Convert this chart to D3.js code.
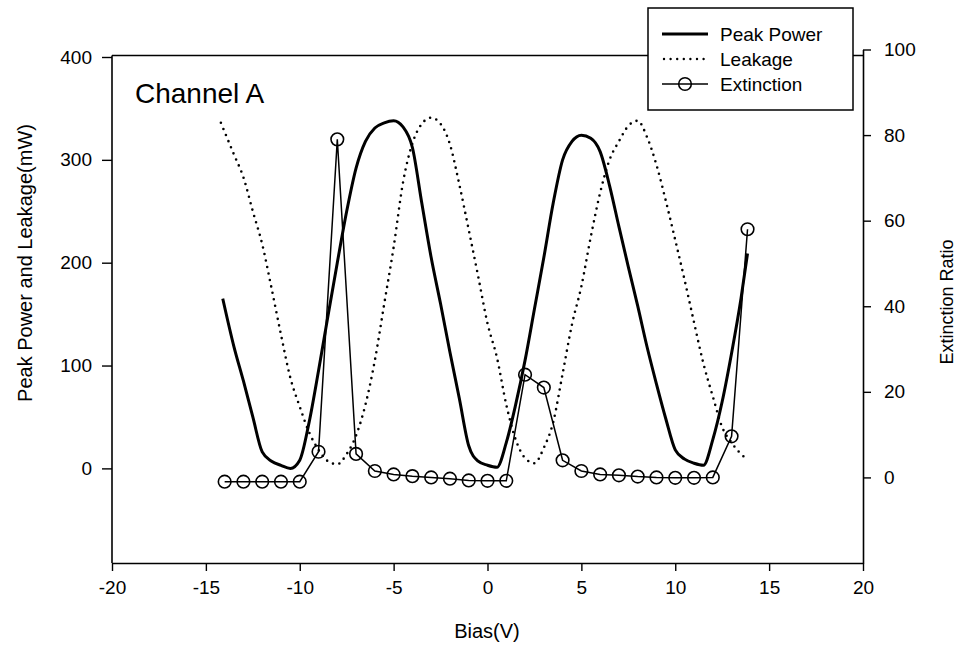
<!DOCTYPE html>
<html><head><meta charset="utf-8">
<script src="https://cdn.jsdelivr.net/npm/d3@7"></script>
<style>
body{margin:0;background:#fff;}
svg{display:block;font-family:"Liberation Sans",Arial,sans-serif;}
</style></head>
<body><svg id="c" width="959" height="648"></svg>
<script>
// ---- data ----
const peakX = [-14.1,-13.5,-13,-12.5,-12,-11.5,-11,-10.5,-10,-9.5,-9,-8.5,-8,-7.5,-7,-6.5,-6,-5.5,-5,-4.5,-4,-3.5,-3,-2.5,-2,-1.5,-1,-0.5,0,0.5,1,1.5,2,2.5,3,3.5,4,4.5,5,5.5,6,6.5,7,7.5,8,8.5,9,9.5,10,10.5,11,11.5,12,12.5,13,13.5,13.85];
const peakY = [165,118,85,50,16,7,3,0,8,45,95,148,200,250,292,318,331,336,338,332,312,258,205,160,113,68,22,7,3,1,25,62,105,155,205,258,300,318,324,321,308,275,235,196,158,118,82,48,18,9,5,3,28,65,112,165,209];
const leakX = [-14.2,-13.5,-13,-12.5,-12,-11.5,-11,-10.5,-10,-9.5,-9,-8.5,-8,-7.5,-7,-6.5,-6,-5.5,-5,-4.5,-4,-3.5,-3,-2.5,-2,-1.5,-1,-0.5,0,0.5,1,1.5,2,2.5,3,3.5,4,4.5,5,5.5,6,6.5,7,7.5,8,8.5,9,9.5,10,10.5,11,11.5,12,12.5,13,13.5,13.9];
const leakY = [336,305,283,250,218,175,130,88,60,35,18,7,4,14,32,62,105,160,215,278,316,335,341,335,315,276,232,187,141,108,62,28,10,5,20,45,92,140,177,225,268,300,318,333,338,322,295,260,222,183,142,102,70,40,25,14,8];
const extX = [-14,-13,-12,-11,-10,-9,-8,-7,-6,-5,-4,-3,-2,-1,0,1,2,3,4,5,6,7,8,9,10,11,12,13,13.85];
const extY = [-1,-1,-1,-1,-1,6,79,5.5,1.5,0.7,0.3,0,-0.3,-0.7,-0.8,-0.8,24,21,4,1.5,0.7,0.5,0.2,0,-0.1,-0.1,0,9.6,58];
const xTicks = [-20,-15,-10,-5,0,5,10,15,20];
const yLeftTicks = [0,100,200,300,400];
const yRightTicks = [0,20,40,60,80,100];
const seriesNames = ["Peak Power","Leakage","Extinction"];

// ---- layout ----
const svg = d3.select("#c");
const x = d3.scaleLinear().domain([-20,20]).range([112,863]);
const yL = d3.scaleLinear().domain([-92,400]).range([563,57]);
const yR = d3.scaleLinear().domain([-20,100]).range([563,49.5]);
const F = "Liberation Sans, Arial, sans-serif";
const fmt = d => String(d);

// frame
svg.append("line").attr("x1",112).attr("x2",863).attr("y1",55.5).attr("y2",55.5).attr("stroke","#000").attr("stroke-width",1.5);

// axes
const gx = svg.append("g").attr("transform","translate(0,563)")
  .call(d3.axisBottom(x).tickValues(xTicks).tickFormat(fmt).tickSize(8).tickPadding(10).tickSizeOuter(0));
const gl = svg.append("g").attr("transform","translate(112,0)")
  .call(d3.axisLeft(yL).tickValues(yLeftTicks).tickFormat(fmt).tickSize(10).tickPadding(10).tickSizeOuter(0));
const gr = svg.append("g").attr("transform","translate(863,0)")
  .call(d3.axisRight(yR).tickValues(yRightTicks).tickFormat(fmt).tickSize(8).tickPadding(13).tickSizeOuter(0));
[gx,gl,gr].forEach(g=>{
  g.selectAll("path.domain").attr("stroke","#000").attr("stroke-width",1.6);
  g.selectAll(".tick line").attr("stroke","#000").attr("stroke-width",1.4);
  g.selectAll("text").attr("font-family",F).attr("font-size",19).attr("fill","#000");
});
gl.select("path.domain").attr("d","M0,563V55.5");

// titles
svg.append("text").attr("x",487).attr("y",638).attr("text-anchor","middle")
  .attr("font-family",F).attr("font-size",20).text("Bias(V)");
svg.append("text").attr("transform","translate(32,263) rotate(-90)").attr("text-anchor","middle")
  .attr("font-family",F).attr("font-size",20).text("Peak Power and Leakage(mW)");
svg.append("text").attr("transform","translate(953,302) rotate(-90)").attr("text-anchor","middle")
  .attr("font-family",F).attr("font-size",18).text("Extinction Ratio");
svg.append("text").attr("x",135).attr("y",103)
  .attr("font-family",F).attr("font-size",28).text("Channel A");

// series
const peak = peakX.map((v,i)=>[v,peakY[i]]);
const leak = leakX.map((v,i)=>[v,leakY[i]]);
const ext = extX.map((v,i)=>[v,extY[i]]);
const lineL = d3.line().x(d=>x(d[0])).y(d=>yL(d[1])).curve(d3.curveMonotoneX);
svg.append("path").attr("d",lineL(leak)).attr("fill","none").attr("stroke","#000")
  .attr("stroke-width",2.6).attr("stroke-linecap","round").attr("stroke-dasharray","0 6.6");
svg.append("path").attr("d",lineL(peak)).attr("fill","none").attr("stroke","#000")
  .attr("stroke-width",3).attr("stroke-linejoin","round");
const lineR = d3.line().x(d=>x(d[0])).y(d=>yR(d[1]));
svg.append("path").attr("d",lineR(ext)).attr("fill","none").attr("stroke","#000").attr("stroke-width",1.5);
svg.selectAll("circle.e").data(ext).enter().append("circle").attr("class","e")
  .attr("cx",d=>x(d[0])).attr("cy",d=>yR(d[1])).attr("r",6.3)
  .attr("fill","none").attr("stroke","#000").attr("stroke-width",1.6);

// legend
const lg = svg.append("g");
lg.append("rect").attr("x",648).attr("y",8).attr("width",205).attr("height",102)
  .attr("fill","#fff").attr("stroke","#000").attr("stroke-width",1.5);
const rows = [34,59,84];
seriesNames.forEach((n,i)=>{
  const yy = rows[i];
  const l = lg.append("line").attr("x1",662).attr("x2",708).attr("y1",yy).attr("y2",yy).attr("stroke","#000");
  if(i===0) l.attr("stroke-width",3);
  if(i===1) l.attr("stroke-width",2.4).attr("stroke-linecap","round").attr("stroke-dasharray","0 6.6").attr("x1",664);
  if(i===2){ l.attr("stroke-width",1.5);
    lg.append("circle").attr("cx",685).attr("cy",yy).attr("r",6.3).attr("fill","none").attr("stroke","#000").attr("stroke-width",1.6);}
  lg.append("text").attr("x",720).attr("y",yy+7).attr("font-family",F).attr("font-size",19).text(n);
});
</script></body></html>
